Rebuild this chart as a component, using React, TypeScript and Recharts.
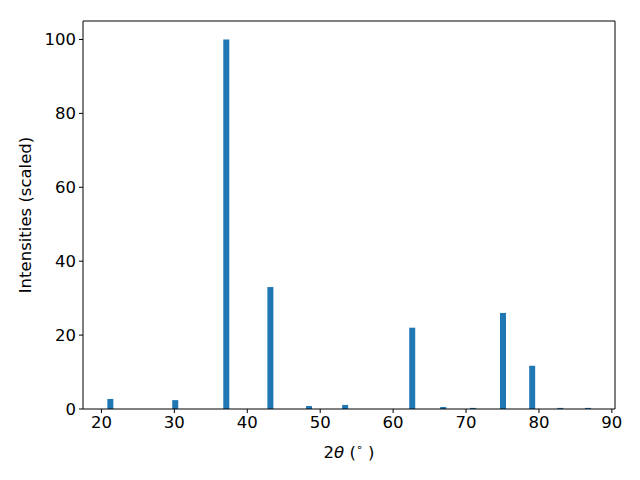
import { Bar, BarChart, XAxis, YAxis, Label, ReferenceLine } from "recharts";

const angles = [21.2, 30.1, 37.1, 43.15, 48.45, 53.4, 62.6, 66.85, 70.95, 75.05, 79.05, 82.9, 86.7];
const intensities = [2.7, 2.4, 100, 33, 0.8, 1.1, 22, 0.55, 0.3, 26, 11.7, 0.3, 0.3];
const xTicks = [20, 30, 40, 50, 60, 70, 80, 90];
const yTicks = [0, 20, 40, 60, 80, 100];

const xMin = 17.47;
const xMax = 90.43;
const yMax = 105;

const data = angles.map((a, i) => ({ angle: a, intensity: intensities[i] }));

const font = "DejaVu Sans";
const tickStyle = { fontFamily: font, fontSize: 16.5, fill: "#000" };

function XLabel() {
  return (
    <text x={349} y={458} textAnchor="middle" fontFamily={font} fontSize={16.5} fill="#000">
      <tspan>2</tspan>
      <tspan fontStyle="italic">θ</tspan>
      <tspan> (</tspan>
      <tspan fontSize={11} dy={-7}>∘</tspan>
      <tspan dy={7}> )</tspan>
    </text>
  );
}

export default function App() {
  return (
    <div style={{ position: "absolute", left: 0, top: 0, background: "#fff" }}>
      <BarChart
        width={640}
        height={480}
        data={data}
        margin={{ top: 21, right: 25, left: 0, bottom: 0 }}
      >
        <XAxis
          dataKey="angle"
          type="number"
          domain={[xMin, xMax]}
          ticks={xTicks}
          allowDataOverflow
          height={71}
          tick={tickStyle}
          tickSize={4}
          tickMargin={3}
          axisLine={{ stroke: "#000" }}
          tickLine={{ stroke: "#000" }}
        >
          <Label content={() => <XLabel />} />
        </XAxis>
        <YAxis
          type="number"
          domain={[0, yMax]}
          ticks={yTicks}
          width={83}
          tick={tickStyle}
          tickSize={4}
          tickMargin={3}
          axisLine={{ stroke: "#000" }}
          tickLine={{ stroke: "#000" }}
          label={{
            value: "Intensities (scaled)",
            angle: -90,
            position: "insideLeft",
            offset: 25,
            style: { fontFamily: font, fontSize: 16.5, fill: "#000", textAnchor: "middle" },
          }}
        />
        {/* top and right frame lines */}
        <ReferenceLine y={yMax} stroke="#000" strokeWidth={1} ifOverflow="extendDomain" />
        <ReferenceLine x={xMax} stroke="#000" strokeWidth={1} ifOverflow="extendDomain" />
        <Bar dataKey="intensity" fill="#1f77b4" barSize={6} isAnimationActive={false} />
      </BarChart>
    </div>
  );
}
